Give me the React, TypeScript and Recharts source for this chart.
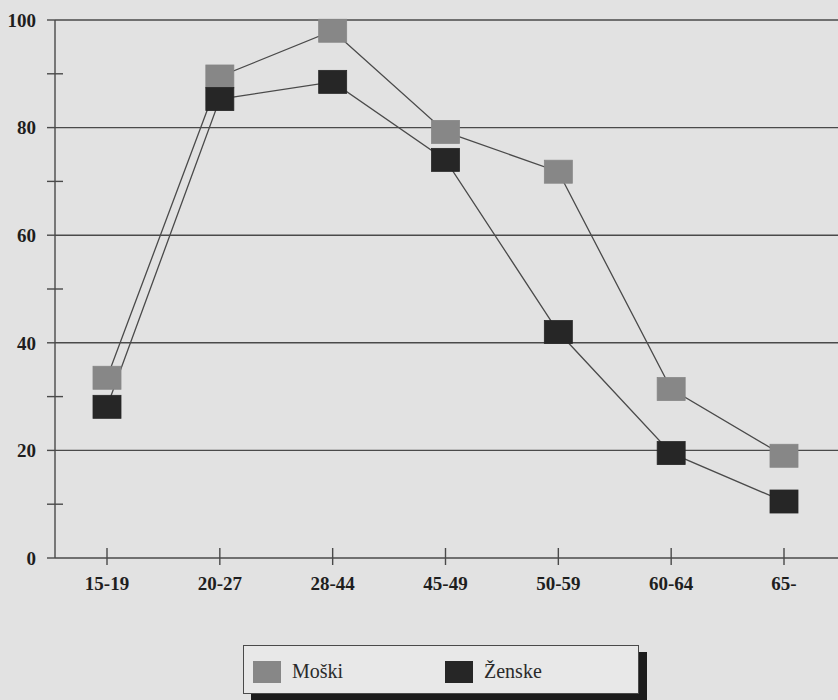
import React from "react";
import { LineChart, Line, XAxis, YAxis, CartesianGrid } from "recharts";

const categories = ["15-19", "20-27", "28-44", "45-49", "50-59", "60-64", "65-"];
const moski = [33.5, 89.5, 98, 79.2, 71.8, 31.4, 19];
const zenske = [28.1, 85.3, 88.5, 74, 42, 19.5, 10.5];
const yTicks = [0, 10, 20, 30, 40, 50, 60, 70, 80, 90, 100];

const series = [
  { key: "moski", name: "Moški", fill: "#878787" },
  { key: "zenske", name: "Ženske", fill: "#262626" },
];

const data = categories.map((cat, i) => ({
  cat,
  moski: moski[i],
  zenske: zenske[i],
}));

const INK = "#4a4a4a";
const FONT = '"Liberation Serif", "DejaVu Serif", serif';

// major ticks stick out left, minor ticks cross the axis
const YTick = ({ x, y, payload }: any) => {
  const major = payload.value % 20 === 0;
  return (
    <g>
      <line x1={x - 8} x2={major ? x : x + 8} y1={y} y2={y} stroke={INK} strokeWidth={1.4} />
      {major && (
        <text
          x={x - 19}
          y={y}
          dy="0.36em"
          textAnchor="end"
          fontFamily={FONT}
          fontWeight="bold"
          fontSize={19}
          fill="#1e1e1e"
        >
          {payload.value}
        </text>
      )}
    </g>
  );
};

const XTick = ({ x, y, payload }: any) => (
  <g>
    <line x1={x} x2={x} y1={y - 10} y2={y + 7} stroke={INK} strokeWidth={1.4} />
    <text
      x={x}
      y={y + 25}
      dy="0.36em"
      textAnchor="middle"
      fontFamily={FONT}
      fontWeight="bold"
      fontSize={19}
      fill="#1e1e1e"
    >
      {payload.value}
    </text>
  </g>
);

const makeDot = (fill: string) => (props: any) => {
  const { cx, cy, index } = props;
  if (cx == null || cy == null) return null;
  return <rect key={index} x={cx - 14} y={cy - 11.5} width={28} height={23} fill={fill} stroke={fill} strokeWidth={0.8} />;
};

export default function App() {
  return (
    <div
      style={{
        position: "absolute",
        left: 0,
        top: 0,
        width: 838,
        height: 700,
        background: "#e2e2e2",
        overflow: "hidden",
      }}
    >
      <LineChart width={838} height={610} data={data} margin={{ top: 20, right: 0, left: 0, bottom: 0 }}>
        <CartesianGrid vertical={false} stroke={INK} strokeWidth={1.4} horizontalValues={[20, 40, 60, 80, 100]} />
        <XAxis
          dataKey="cat"
          height={52}
          padding={{ left: 52, right: 54 }}
          axisLine={{ stroke: INK, strokeWidth: 1.4 }}
          tickLine={false}
          tickSize={0}
          tickMargin={0}
          interval={0}
          tick={<XTick />}
        />
        <YAxis
          width={55}
          domain={[0, 100]}
          ticks={yTicks}
          interval={0}
          axisLine={{ stroke: INK, strokeWidth: 1.4 }}
          tickLine={false}
          tickSize={0}
          tickMargin={0}
          tick={<YTick />}
        />
        {series.map((s) => (
          <Line
            key={s.key}
            dataKey={s.key}
            name={s.name}
            type="linear"
            stroke={INK}
            strokeWidth={1.3}
            dot={makeDot(s.fill)}
            activeDot={false}
            isAnimationActive={false}
          />
        ))}
      </LineChart>

      <div
        style={{
          position: "absolute",
          left: 243,
          top: 645,
          width: 396,
          height: 49,
          boxSizing: "border-box",
          border: `1px solid ${INK}`,
          background: "#e8e8e8",
          boxShadow: "8px 7px 0 #1c1c1c",
          fontFamily: FONT,
          fontSize: 20,
          color: "#2a2a2a",
        }}
      >
        {series.map((s, i) => (
          <div
            key={s.key}
            style={{
              position: "absolute",
              left: i === 0 ? 9 : 201,
              top: 14,
              display: "flex",
              alignItems: "center",
              gap: 11,
            }}
          >
            <span style={{ display: "inline-block", width: 28, height: 22, background: s.fill }} />
            <span>{s.name}</span>
          </div>
        ))}
      </div>
    </div>
  );
}
